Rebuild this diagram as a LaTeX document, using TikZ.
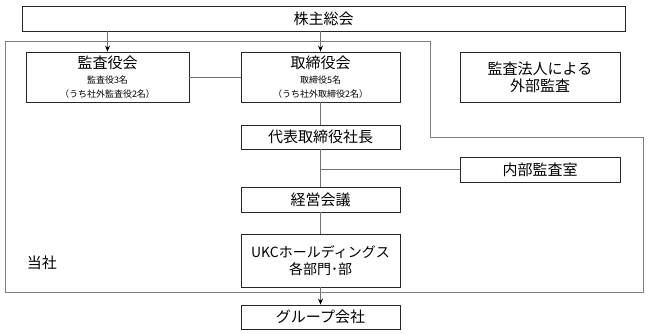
\documentclass[tikz,border=0pt]{standalone}
\usepackage{fontspec}
\setmainfont{Noto Sans CJK JP}
\usetikzlibrary{arrows.meta,calc}
\begin{document}
\begin{tikzpicture}[x=1pt,y=-1pt,
  box/.style={draw=black!85,line width=0.8pt,fill=white,inner sep=0pt,align=center,font=\fontsize{15}{17}\selectfont},
  conn/.style={draw=black!55,line width=0.8pt},
  arr/.style={conn,-{Stealth[length=6pt,width=5pt,black]}},
  region/.style={draw=black!50,line width=0.8pt}]
\useasboundingbox (0,0) rectangle (648,334);
% outer region
\draw[region] (5,41) -- (430,41) -- (430,137) -- (643,137) -- (643,292) -- (5,292) -- cycle;
\node[box,minimum width=603pt,minimum height=25pt] (top) at (323.5,18.5) {株主総会};
\node[box,minimum width=163pt,minimum height=50pt] (kansa) at (107.5,77) {監査役会\\[-2pt]{\fontsize{9}{10.5}\selectfont 監査役3名}\\[-3pt]{\fontsize{9}{10.5}\selectfont （うち社外監査役2名）}};
\node[box,minimum width=159pt,minimum height=50pt] (tori) at (320.5,77) {取締役会\\[-2pt]{\fontsize{9}{10.5}\selectfont 取締役5名}\\[-3pt]{\fontsize{9}{10.5}\selectfont （うち社外取締役2名）}};
\node[box,minimum width=160pt,minimum height=50pt] (gaibu) at (540,77) {監査法人による\\外部監査};
\node[box,minimum width=159pt,minimum height=24pt] (daihyo) at (320.5,137) {代表取締役社長};
\node[box,minimum width=160pt,minimum height=25pt] (naibu) at (540,169.5) {内部監査室};
\node[box,minimum width=159pt,minimum height=25pt] (keiei) at (320.5,199.5) {経営会議};
\node[box,minimum width=159pt,minimum height=53pt,font=\fontsize{14}{17}\selectfont] (ukc) at (320.5,260.5) {UKCホールディングス\\各部門･部};
\node[box,minimum width=159pt,minimum height=24pt] (group) at (320.5,317) {グループ会社};
\node[font=\fontsize{15}{17}\selectfont,inner sep=0pt] (tosha) at (42,263) {当社};
% connectors
\draw[arr] (top.south -| kansa.north) -- (kansa.north);
\draw[arr] (top.south -| tori.north) -- (tori.north);
\draw[conn] (kansa.east) -- (tori.west);
\draw[conn] (tori.south) -- (daihyo.north);
\draw[conn] (daihyo.south) -- (keiei.north);
\draw[conn] (daihyo.south |- naibu.west) -- (naibu.west);
\draw[conn] (keiei.south) -- (ukc.north);
\draw[arr] (ukc.south) -- (group.north);
\end{tikzpicture}
\end{document}
